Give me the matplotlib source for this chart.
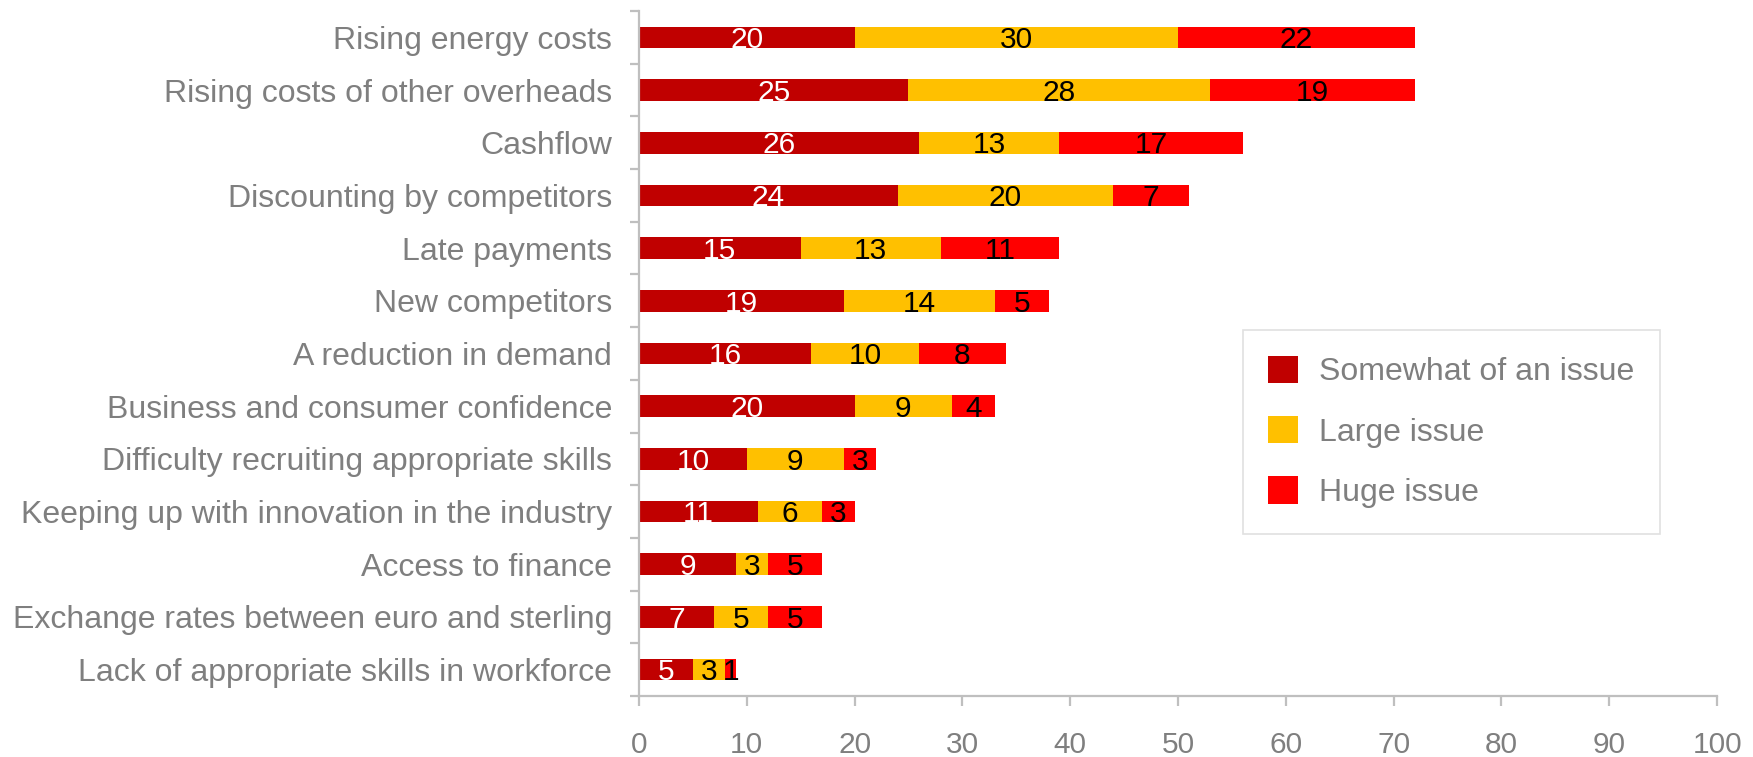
import numpy as np
import matplotlib
matplotlib.use("Agg")
import matplotlib.pyplot as plt

# Survey results: share of businesses rating each issue
categories = [
    "Rising energy costs",
    "Rising costs of other overheads",
    "Cashflow",
    "Discounting by competitors",
    "Late payments",
    "New competitors",
    "A reduction in demand",
    "Business and consumer confidence",
    "Difficulty recruiting appropriate skills",
    "Keeping up with innovation in the industry",
    "Access to finance",
    "Exchange rates between euro and sterling",
    "Lack of appropriate skills in workforce",
]
somewhat = [20, 25, 26, 24, 15, 19, 16, 20, 10, 11, 9, 7, 5]
large = [30, 28, 13, 20, 13, 14, 10, 9, 9, 6, 3, 5, 3]
huge = [22, 19, 17, 7, 11, 5, 8, 4, 3, 3, 5, 5, 1]
series_names = ["Somewhat of an issue", "Large issue", "Huge issue"]
xticks = [0, 10, 20, 30, 40, 50, 60, 70, 80, 90, 100]

colors = ["#C00000", "#FFC000", "#FF0000"]
label_colors = ["white", "black", "black"]
grey = "#7F7F7F"
axis_col = "#BFBFBF"
font = "Liberation Sans"

fig = plt.figure(figsize=(17.53, 7.57), dpi=100)
ax = fig.add_axes([0.3645, 0.0806, 0.615, 0.9049])

y = np.arange(len(categories))
left = np.zeros(len(categories))
for vals, name, c, lc in zip([somewhat, large, huge], series_names, colors, label_colors):
    vals = np.array(vals, dtype=float)
    ax.barh(y, vals, left=left, height=0.41, color=c, label=name)
    # value labels, centred in each segment and nudged a touch low
    for yi, l, v in zip(y, left, vals):
        ax.annotate(f"{int(v)}", (l + v / 2, yi), xytext=(0, -2),
                    textcoords="offset points", ha="center", va="center",
                    color=lc, fontsize=21.5, family=font)
    left += vals

ax.set_xlim(0, 100)
ax.set_ylim(len(categories) - 0.5, -0.5)
ax.set_xticks(xticks)
ax.set_xticklabels([str(t) for t in xticks], fontsize=21.5, color=grey, family=font)
ax.set_yticks(y)
ax.set_yticklabels(categories, fontsize=23, color=grey, family=font)
ax.set_yticks(np.arange(len(categories) + 1) - 0.5, minor=True)

for s in ["top", "right"]:
    ax.spines[s].set_visible(False)
for s in ["left", "bottom"]:
    ax.spines[s].set_color(axis_col)
    ax.spines[s].set_linewidth(1.6)

ax.tick_params(axis="y", which="major", length=0, pad=19.5)
ax.tick_params(axis="y", which="minor", length=6.5, width=1.6, color=axis_col)
ax.tick_params(axis="x", which="major", length=7, width=1.6, color=axis_col, pad=18)

leg = fig.legend(loc="upper left", bbox_to_anchor=(0.709, 0.564), borderaxespad=0,
                 prop={"family": font, "size": 23},
                 frameon=True, fancybox=False, edgecolor="#D9D9D9",
                 handlelength=0.94, handleheight=0.94, handletextpad=0.65,
                 borderpad=0.8, labelspacing=0.9)
leg.get_frame().set_linewidth(1.2)
for t in leg.get_texts():
    t.set_color(grey)

fig.savefig("out.png", dpi=100)
